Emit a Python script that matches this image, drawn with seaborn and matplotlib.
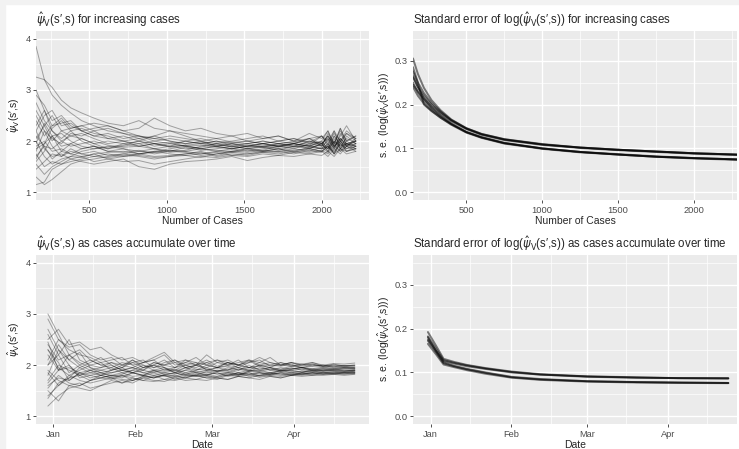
import matplotlib
matplotlib.use('Agg')
import matplotlib.pyplot as plt
import matplotlib.dates as mdates
from matplotlib.patches import Rectangle
import seaborn as sns
import pandas as pd

# ---- data ----
# top-left: estimate vs number of cases, one list per simulation run
cases = [156, 210, 260, 320, 380, 450, 530, 620, 720, 820, 920, 1020, 1120, 1220,
         1320, 1420, 1520, 1620, 1720, 1820, 1920, 2000, 2040, 2080, 2120, 2160, 2220]
psi_cases = [
    [3.85, 3.2, 2.9, 2.7, 2.55, 2.4, 2.3, 2.2, 2.15, 2.1, 2.05, 2.0, 1.95, 1.98, 1.92, 1.9, 1.95, 1.9, 1.92, 1.95, 1.9, 1.98, 1.85, 2.1, 1.9, 2.05, 1.95],
    [3.25, 3.2, 3.05, 2.8, 2.65, 2.55, 2.45, 2.35, 2.3, 2.4, 2.25, 2.2, 2.15, 2.1, 2.05, 2.1, 2.0, 2.05, 2.1, 2.0, 2.15, 2.05, 2.2, 1.95, 2.25, 2.0, 2.1],
    [1.15, 1.2, 1.45, 1.55, 1.6, 1.65, 1.7, 1.68, 1.72, 1.75, 1.7, 1.72, 1.75, 1.78, 1.7, 1.75, 1.72, 1.78, 1.8, 1.75, 1.82, 1.78, 1.9, 1.75, 1.85, 1.8, 1.85],
    [1.3, 1.15, 1.25, 1.4, 1.55, 1.62, 1.65, 1.7, 1.75, 1.8, 1.78, 1.82, 1.8, 1.85, 1.82, 1.8, 1.85, 1.88, 1.82, 1.9, 1.85, 1.95, 1.8, 2.0, 1.85, 1.95, 1.9],
    [2.6, 2.3, 2.0, 2.2, 2.1, 2.15, 2.05, 1.95, 2.0, 1.9, 1.95, 1.88, 1.92, 1.85, 1.9, 1.95, 1.88, 1.9, 1.95, 2.0, 1.92, 2.1, 1.9, 2.2, 1.85, 2.1, 1.95],
    [1.8, 2.2, 1.9, 1.7, 1.85, 1.75, 1.8, 1.72, 1.75, 1.7, 1.65, 1.7, 1.75, 1.8, 1.72, 1.78, 1.75, 1.8, 1.85, 1.78, 1.85, 1.8, 1.95, 1.75, 2.0, 1.8, 1.9],
    [2.2, 2.5, 2.6, 2.3, 2.35, 2.2, 2.1, 2.15, 2.05, 2.1, 2.0, 2.05, 2.0, 1.95, 2.0, 1.92, 1.95, 2.0, 1.95, 1.9, 2.0, 1.95, 2.05, 1.85, 2.15, 1.95, 2.0],
    [1.6, 1.8, 2.1, 1.9, 1.95, 1.85, 1.9, 1.8, 1.78, 1.82, 1.75, 1.8, 1.78, 1.72, 1.75, 1.8, 1.78, 1.82, 1.8, 1.85, 1.8, 1.88, 1.78, 1.95, 1.8, 1.9, 1.85],
    [2.0, 1.7, 1.55, 1.65, 1.7, 1.8, 1.85, 1.9, 1.85, 1.8, 1.85, 1.9, 1.85, 1.88, 1.95, 1.9, 1.85, 1.9, 1.88, 1.95, 1.9, 1.85, 2.05, 1.9, 2.0, 1.85, 1.95],
    [2.4, 2.1, 2.3, 2.45, 2.25, 2.3, 2.2, 2.25, 2.15, 2.05, 2.1, 2.0, 1.95, 2.0, 2.05, 1.98, 2.0, 1.95, 2.0, 2.05, 1.95, 2.0, 2.2, 1.9, 2.1, 2.3, 2.0],
    [1.9, 2.0, 1.8, 1.85, 1.75, 1.7, 1.75, 1.65, 1.6, 1.62, 1.55, 1.6, 1.65, 1.7, 1.68, 1.72, 1.7, 1.75, 1.72, 1.78, 1.75, 1.8, 1.7, 1.85, 1.75, 1.9, 1.8],
    [1.75, 1.5, 1.6, 1.55, 1.65, 1.6, 1.55, 1.6, 1.65, 1.5, 1.45, 1.55, 1.6, 1.62, 1.65, 1.7, 1.62, 1.68, 1.72, 1.7, 1.75, 1.72, 1.8, 1.7, 1.85, 1.75, 1.8],
    [2.9, 2.7, 2.4, 2.5, 2.3, 2.2, 2.25, 2.3, 2.2, 2.25, 2.45, 2.3, 2.2, 2.25, 2.15, 2.1, 2.15, 2.05, 2.1, 2.0, 2.05, 2.1, 2.0, 2.2, 2.0, 2.15, 2.05],
    [2.1, 1.9, 1.85, 2.0, 1.9, 1.95, 2.0, 1.92, 1.88, 1.9, 1.85, 1.8, 1.88, 1.82, 1.85, 1.9, 1.85, 1.82, 1.9, 1.88, 1.92, 1.85, 1.95, 1.8, 2.0, 1.9, 1.95],
    [1.45, 1.6, 1.75, 1.7, 1.8, 1.75, 1.7, 1.75, 1.7, 1.72, 1.68, 1.7, 1.72, 1.75, 1.78, 1.72, 1.75, 1.78, 1.75, 1.8, 1.78, 1.82, 1.75, 1.9, 1.8, 1.95, 1.85],
    [2.3, 2.6, 2.2, 2.0, 2.1, 2.05, 1.95, 2.0, 1.95, 1.9, 1.95, 1.9, 1.92, 1.95, 2.0, 1.95, 1.9, 1.95, 2.0, 1.95, 2.05, 1.9, 2.15, 1.95, 2.25, 1.9, 2.05],
    [1.85, 1.95, 2.1, 2.15, 2.0, 1.9, 1.85, 1.88, 1.92, 2.0, 1.95, 1.98, 1.9, 1.92, 1.88, 1.85, 1.9, 1.88, 1.85, 1.9, 1.88, 1.92, 1.85, 2.0, 1.9, 1.95, 1.9],
    [2.5, 2.2, 2.05, 1.95, 2.15, 2.1, 2.2, 2.05, 2.0, 1.95, 2.0, 1.95, 2.0, 2.05, 1.98, 2.0, 2.05, 2.1, 2.0, 2.05, 1.98, 2.1, 1.95, 2.15, 2.0, 2.2, 2.05],
    [1.55, 1.35, 1.5, 1.6, 1.7, 1.68, 1.75, 1.78, 1.8, 1.75, 1.78, 1.82, 1.8, 1.75, 1.8, 1.78, 1.82, 1.8, 1.78, 1.82, 1.85, 1.8, 1.9, 1.78, 1.95, 1.85, 1.9],
    [2.05, 2.3, 2.5, 2.2, 2.25, 2.3, 2.35, 2.3, 2.2, 2.1, 2.05, 2.1, 2.05, 2.0, 1.95, 1.98, 1.95, 2.0, 1.95, 1.98, 2.0, 1.95, 2.1, 1.95, 2.2, 2.0, 2.1],
    [2.75, 2.4, 2.2, 2.05, 2.2, 2.25, 2.15, 2.1, 2.0, 2.05, 1.95, 1.9, 2.0, 1.95, 1.9, 1.85, 1.9, 1.95, 1.9, 1.85, 1.95, 1.9, 2.0, 1.85, 2.05, 1.9, 2.0],
    [1.95, 2.35, 2.1, 1.8, 1.75, 1.85, 1.9, 1.85, 1.95, 2.0, 2.1, 2.2, 2.1, 2.0, 1.9, 1.85, 1.8, 1.85, 1.9, 1.95, 1.85, 1.95, 1.8, 2.05, 1.85, 2.0, 1.9],
    [1.65, 1.95, 2.25, 2.4, 2.2, 2.0, 1.9, 1.8, 1.85, 1.75, 1.8, 1.85, 1.9, 1.85, 1.8, 1.85, 1.9, 1.95, 1.9, 1.95, 1.9, 2.0, 1.85, 2.1, 1.95, 2.15, 2.0],
    [2.2, 1.85, 1.7, 1.75, 1.65, 1.7, 1.6, 1.65, 1.7, 1.75, 1.8, 1.75, 1.72, 1.68, 1.75, 1.8, 1.85, 1.8, 1.85, 1.8, 1.88, 1.85, 1.9, 1.75, 1.95, 1.8, 1.85],
    [3.0, 2.6, 2.3, 2.35, 2.4, 2.2, 2.1, 2.05, 2.1, 2.0, 1.9, 1.95, 1.9, 1.85, 1.9, 1.95, 2.0, 1.95, 1.9, 1.95, 2.05, 1.95, 2.1, 1.9, 2.05, 1.95, 2.0],
    [1.7, 1.9, 1.65, 1.8, 1.95, 2.05, 1.95, 1.85, 1.9, 1.95, 1.85, 1.78, 1.82, 1.9, 1.95, 1.88, 1.92, 1.88, 1.95, 1.9, 1.98, 1.92, 2.1, 1.88, 2.05, 1.92, 2.0],
]

# top-right: standard error vs number of cases (two bundles of runs)
se_cases_x = [148, 180, 220, 270, 330, 400, 500, 600, 750, 1000, 1250, 1500, 1750, 2000, 2284]
se_cases = [
    [0.262, 0.240, 0.220, 0.200, 0.182, 0.164, 0.145, 0.132, 0.120, 0.109, 0.102, 0.097, 0.093, 0.089, 0.086],
    [0.275, 0.250, 0.226, 0.204, 0.184, 0.165, 0.146, 0.133, 0.121, 0.110, 0.102, 0.097, 0.093, 0.089, 0.086],
    [0.245, 0.230, 0.213, 0.196, 0.179, 0.162, 0.144, 0.131, 0.119, 0.108, 0.101, 0.096, 0.092, 0.088, 0.085],
    [0.305, 0.270, 0.238, 0.210, 0.187, 0.166, 0.146, 0.133, 0.121, 0.109, 0.102, 0.097, 0.093, 0.089, 0.086],
    [0.250, 0.228, 0.208, 0.190, 0.173, 0.156, 0.137, 0.125, 0.112, 0.100, 0.092, 0.086, 0.081, 0.078, 0.075],
    [0.240, 0.220, 0.202, 0.186, 0.170, 0.154, 0.136, 0.124, 0.111, 0.099, 0.091, 0.086, 0.081, 0.077, 0.074],
    [0.265, 0.240, 0.214, 0.193, 0.175, 0.157, 0.138, 0.126, 0.113, 0.100, 0.092, 0.087, 0.082, 0.078, 0.075],
    [0.285, 0.250, 0.200, 0.185, 0.170, 0.155, 0.137, 0.125, 0.112, 0.100, 0.092, 0.086, 0.081, 0.078, 0.075],
]

# bottom-left: estimate as cases accumulate, every 4 days from 30 Dec
dates = pd.date_range('2019-12-30', '2020-04-24', freq='4D')
psi_dates = [
    [3.0, 2.6, 2.2, 2.3, 2.1, 2.0, 2.05, 1.95, 2.1, 2.0, 1.95, 2.05, 2.1, 1.95, 2.0, 2.05, 1.95, 2.0, 2.1, 1.95, 2.0, 1.95, 2.05, 2.0, 1.95, 1.98, 2.0, 1.95, 1.98, 1.95],
    [1.2, 1.4, 1.55, 1.6, 1.7, 1.75, 1.72, 1.8, 1.75, 1.7, 1.78, 1.8, 1.75, 1.82, 1.78, 1.8, 1.75, 1.82, 1.8, 1.85, 1.78, 1.82, 1.85, 1.8, 1.85, 1.82, 1.86, 1.84, 1.86, 1.85],
    [2.5, 2.7, 2.4, 2.45, 2.3, 2.35, 2.2, 2.1, 2.15, 2.05, 2.1, 2.2, 2.0, 2.05, 2.15, 2.0, 2.1, 2.05, 2.0, 2.1, 2.05, 2.15, 2.0, 2.05, 2.0, 2.05, 1.98, 2.02, 1.98, 2.0],
    [1.5, 1.3, 1.6, 1.55, 1.5, 1.6, 1.65, 1.7, 1.65, 1.75, 1.7, 1.68, 1.75, 1.7, 1.72, 1.78, 1.75, 1.72, 1.78, 1.75, 1.8, 1.78, 1.75, 1.8, 1.82, 1.8, 1.84, 1.82, 1.85, 1.84],
    [2.2, 1.9, 2.0, 1.8, 1.85, 1.9, 1.95, 1.85, 1.9, 2.0, 1.9, 1.95, 1.85, 1.9, 2.0, 1.92, 1.88, 1.95, 1.9, 2.0, 1.9, 1.95, 1.88, 1.92, 1.95, 1.9, 1.92, 1.9, 1.93, 1.92],
    [1.8, 2.3, 2.0, 1.75, 1.8, 1.85, 1.8, 1.75, 1.85, 1.8, 1.9, 1.82, 1.78, 1.85, 1.8, 1.88, 1.82, 1.85, 1.8, 1.88, 1.85, 1.82, 1.9, 1.85, 1.88, 1.86, 1.9, 1.88, 1.86, 1.88],
    [2.9, 2.5, 2.35, 2.4, 2.2, 2.1, 2.15, 2.0, 2.05, 2.1, 1.95, 2.0, 2.05, 1.95, 2.0, 2.1, 1.98, 2.05, 2.0, 1.95, 2.05, 2.0, 1.98, 2.02, 1.95, 2.0, 1.96, 1.98, 1.95, 1.96],
    [1.6, 1.75, 1.7, 1.85, 1.8, 1.75, 1.8, 1.85, 1.78, 1.8, 1.75, 1.8, 1.85, 1.8, 1.78, 1.82, 1.85, 1.8, 1.85, 1.82, 1.85, 1.8, 1.86, 1.82, 1.85, 1.88, 1.85, 1.87, 1.86, 1.88],
    [2.0, 2.2, 1.85, 2.0, 2.1, 2.0, 1.95, 2.05, 2.0, 1.9, 2.05, 2.0, 2.1, 2.0, 1.95, 2.05, 2.1, 2.0, 2.05, 2.1, 2.0, 2.05, 2.0, 1.98, 2.02, 1.98, 2.0, 1.97, 1.99, 1.98],
    [1.4, 1.6, 1.8, 1.7, 1.65, 1.7, 1.75, 1.72, 1.7, 1.78, 1.75, 1.8, 1.72, 1.78, 1.8, 1.75, 1.78, 1.8, 1.85, 1.78, 1.8, 1.85, 1.82, 1.8, 1.83, 1.85, 1.82, 1.84, 1.83, 1.85],
    [2.4, 2.1, 2.2, 2.05, 1.95, 1.9, 1.85, 1.9, 1.95, 1.85, 1.9, 1.88, 1.92, 1.85, 1.9, 1.95, 1.88, 1.9, 1.95, 1.9, 1.88, 1.92, 1.9, 1.95, 1.9, 1.92, 1.9, 1.92, 1.91, 1.9],
    [1.9, 1.7, 1.6, 1.65, 1.55, 1.6, 1.7, 1.65, 1.75, 1.7, 1.68, 1.72, 1.7, 1.75, 1.72, 1.7, 1.75, 1.72, 1.78, 1.75, 1.72, 1.78, 1.75, 1.8, 1.78, 1.8, 1.8, 1.82, 1.8, 1.82],
    [2.6, 2.2, 2.5, 2.1, 2.0, 2.05, 1.9, 1.95, 2.05, 1.95, 2.0, 2.1, 1.95, 2.05, 2.0, 1.95, 2.05, 2.0, 1.95, 2.05, 2.1, 1.98, 2.0, 2.05, 1.98, 2.02, 1.97, 2.0, 1.98, 1.99],
    [1.7, 2.0, 1.9, 1.8, 1.9, 1.85, 1.78, 1.82, 1.9, 1.85, 1.8, 1.85, 1.9, 1.82, 1.88, 1.85, 1.9, 1.88, 1.82, 1.88, 1.9, 1.85, 1.88, 1.9, 1.86, 1.9, 1.88, 1.9, 1.89, 1.9],
    [2.3, 1.95, 1.8, 1.9, 2.0, 1.95, 2.0, 1.9, 1.85, 1.95, 2.0, 1.9, 1.95, 2.0, 1.92, 1.9, 1.95, 1.98, 1.9, 1.95, 1.92, 1.95, 1.9, 1.93, 1.95, 1.92, 1.94, 1.93, 1.95, 1.94],
    [1.55, 1.8, 1.65, 1.6, 1.7, 1.8, 1.75, 1.65, 1.7, 1.75, 1.8, 1.72, 1.78, 1.75, 1.8, 1.75, 1.72, 1.8, 1.78, 1.82, 1.76, 1.8, 1.78, 1.82, 1.8, 1.83, 1.82, 1.83, 1.82, 1.83],
    [2.1, 2.5, 2.3, 2.2, 2.15, 2.05, 2.1, 2.15, 2.0, 2.05, 2.15, 2.25, 2.05, 2.1, 2.0, 2.2, 2.05, 2.1, 2.0, 2.05, 2.15, 2.05, 2.0, 2.05, 2.02, 2.05, 2.0, 2.03, 2.02, 2.04],
    [1.85, 1.6, 1.75, 1.95, 1.85, 1.8, 1.9, 1.95, 1.85, 1.9, 1.85, 1.92, 1.88, 1.95, 1.85, 1.9, 1.88, 1.85, 1.92, 1.88, 1.95, 1.9, 1.88, 1.9, 1.92, 1.88, 1.9, 1.91, 1.89, 1.9],
    [2.7, 2.3, 2.1, 1.95, 2.05, 2.15, 2.0, 1.9, 1.95, 2.05, 2.1, 1.95, 1.9, 2.0, 2.05, 1.9, 1.95, 2.05, 1.95, 1.9, 2.0, 1.95, 1.92, 1.98, 1.95, 1.93, 1.96, 1.94, 1.95, 1.94],
    [1.35, 1.65, 1.75, 1.8, 1.7, 1.75, 1.8, 1.78, 1.85, 1.8, 1.75, 1.82, 1.85, 1.8, 1.85, 1.82, 1.78, 1.85, 1.82, 1.8, 1.85, 1.82, 1.84, 1.86, 1.83, 1.85, 1.86, 1.85, 1.87, 1.86],
    [2.0, 2.4, 2.1, 2.25, 1.95, 1.85, 1.9, 2.0, 1.95, 1.9, 2.0, 1.95, 1.85, 1.95, 1.9, 2.0, 1.95, 1.9, 2.0, 1.95, 1.98, 1.9, 1.95, 1.92, 1.95, 1.9, 1.93, 1.92, 1.94, 1.93],
    [2.3, 2.05, 1.7, 1.85, 1.75, 1.8, 1.75, 1.8, 1.7, 1.78, 1.85, 1.78, 1.8, 1.75, 1.82, 1.8, 1.85, 1.78, 1.82, 1.85, 1.8, 1.84, 1.8, 1.84, 1.82, 1.85, 1.83, 1.85, 1.84, 1.85],
    [1.65, 1.9, 2.2, 2.0, 1.9, 1.95, 2.05, 2.0, 2.1, 1.95, 2.05, 2.0, 1.95, 2.1, 2.05, 2.0, 1.95, 2.05, 2.0, 2.08, 1.98, 2.0, 2.05, 1.98, 2.0, 2.02, 1.98, 2.0, 1.99, 2.0],
    [2.45, 1.9, 1.95, 1.85, 1.9, 1.8, 1.85, 1.9, 1.85, 1.8, 1.88, 1.85, 1.82, 1.9, 1.85, 1.8, 1.88, 1.92, 1.85, 1.9, 1.87, 1.85, 1.9, 1.88, 1.86, 1.9, 1.88, 1.89, 1.88, 1.9],
]

# bottom-right: standard error as cases accumulate over time
se_dates_x = pd.to_datetime(['2019-12-31', '2020-01-03', '2020-01-06', '2020-01-10', '2020-01-15', '2020-01-22',
                             '2020-02-01', '2020-02-12', '2020-03-01', '2020-03-20', '2020-04-05', '2020-04-24'])
se_dates = [
    [0.182, 0.155, 0.128, 0.122, 0.116, 0.109, 0.101, 0.095, 0.091, 0.088, 0.087, 0.0865],
    [0.192, 0.162, 0.131, 0.124, 0.117, 0.110, 0.102, 0.096, 0.091, 0.089, 0.087, 0.087],
    [0.175, 0.150, 0.126, 0.120, 0.114, 0.108, 0.100, 0.095, 0.090, 0.088, 0.087, 0.086],
    [0.172, 0.147, 0.121, 0.114, 0.107, 0.099, 0.089, 0.084, 0.080, 0.078, 0.077, 0.076],
    [0.165, 0.142, 0.118, 0.112, 0.105, 0.097, 0.088, 0.083, 0.079, 0.077, 0.076, 0.0755],
    [0.180, 0.150, 0.123, 0.115, 0.108, 0.100, 0.090, 0.085, 0.080, 0.078, 0.077, 0.076],
]

psi_lab = r'$\hat{\psi}_{\mathrm{V}}$(s′,s)'
se_lab = r's. e. (log($\hat{\psi}_{\mathrm{V}}$(s′,s)))'
titles = [r'$\hat{\psi}_{\mathrm{V}}$(s′,s) for increasing cases',
          r'Standard error of log($\hat{\psi}_{\mathrm{V}}$(s′,s)) for increasing cases',
          r'$\hat{\psi}_{\mathrm{V}}$(s′,s) as cases accumulate over time',
          r'Standard error of log($\hat{\psi}_{\mathrm{V}}$(s′,s)) as cases accumulate over time']


def long_form(x, runs):
    rows = []
    for i, run in enumerate(runs):
        for xv, yv in zip(x, run):
            rows.append((i, xv, yv))
    return pd.DataFrame(rows, columns=['run', 'x', 'y'])


sns.set_theme(style='darkgrid', rc={
    'axes.facecolor': '#EBEBEB', 'grid.color': 'white',
    'xtick.bottom': True, 'ytick.left': True,
    'xtick.major.size': 2.5, 'ytick.major.size': 2.5,
    'xtick.major.width': 0.6, 'ytick.major.width': 0.6,
    'xtick.color': '#333333', 'ytick.color': '#333333',
    'xtick.labelcolor': '#4D4D4D', 'ytick.labelcolor': '#4D4D4D',
    'xtick.major.pad': 1.5, 'ytick.major.pad': 1.5,
    'xtick.labelsize': 6.7, 'ytick.labelsize': 6.7,
    'axes.labelsize': 7.5, 'axes.titlesize': 8.3,
})
plt.rcParams['font.family'] = ['Liberation Sans', 'DejaVu Sans']
plt.rcParams['mathtext.fontset'] = 'dejavusans'

W, H = 739, 449
fig = plt.figure(figsize=(W / 100, H / 100), dpi=100, facecolor='white')
# thin grey screenshot border on the left and top
fig.patches.append(Rectangle((0, 0), 5 / W, 1, transform=fig.transFigure, color='#F2F2F2', zorder=-1))
fig.patches.append(Rectangle((0, 1 - 4 / H), 1, 4 / H, transform=fig.transFigure, color='#F2F2F2', zorder=-1))

def box(x0, y0, x1, y1):
    return [x0 / W, 1 - y1 / H, (x1 - x0) / W, (y1 - y0) / H]

ax1 = fig.add_axes(box(36, 31, 369, 200))
ax2 = fig.add_axes(box(413, 31, 737, 200))
ax3 = fig.add_axes(box(36, 255, 369, 424))
ax4 = fig.add_axes(box(413, 255, 737, 424))

kw_noisy = dict(x='x', y='y', units='run', estimator=None, color='black',
                alpha=0.33, linewidth=0.7, legend=False)
kw_se = dict(x='x', y='y', units='run', estimator=None, color='black',
             alpha=0.5, linewidth=1.4, legend=False)

sns.lineplot(data=long_form(cases, psi_cases), ax=ax1, **kw_noisy)
sns.lineplot(data=long_form(se_cases_x, se_cases), ax=ax2, **kw_se)
sns.lineplot(data=long_form(dates, psi_dates), ax=ax3, **kw_noisy)
sns.lineplot(data=long_form(se_dates_x, se_dates), ax=ax4, **kw_se)

for ax in (ax1, ax3):
    ax.set_ylim(0.85, 4.15)
    ax.set_yticks([1, 2, 3, 4])
    ax.set_yticks([1.5, 2.5, 3.5], minor=True)
    ax.set_ylabel(psi_lab, labelpad=2)
for ax in (ax2, ax4):
    ax.set_ylim(-0.0175, 0.3675)
    ax.set_yticks([0.0, 0.1, 0.2, 0.3])
    ax.set_yticklabels(['0.0', '0.1', '0.2', '0.3'])
    ax.set_yticks([0.05, 0.15, 0.25, 0.35], minor=True)
    ax.set_ylabel(se_lab, labelpad=2)

ax1.set_xlim(156, 2305)
ax2.set_xlim(148, 2284)
for ax in (ax1, ax2):
    ax.set_xticks([500, 1000, 1500, 2000])
    ax.set_xticks([250, 750, 1250, 1750, 2250], minor=True)
    ax.set_xlabel('Number of Cases', labelpad=1)

ax3.set_xlim(pd.Timestamp('2019-12-25 12:00'), pd.Timestamp('2020-04-29 09:00'))
ax4.set_xlim(pd.Timestamp('2019-12-25 07:00'), pd.Timestamp('2020-04-27 08:00'))
for ax in (ax3, ax4):
    ax.xaxis.set_major_locator(mdates.MonthLocator())
    ax.xaxis.set_major_formatter(mdates.DateFormatter('%b'))
    ax.xaxis.set_minor_locator(mdates.MonthLocator(bymonthday=16))
    ax.set_xlabel('Date', labelpad=1)

for ax, t in zip((ax1, ax2, ax3, ax4), titles):
    ax.set_title(t, loc='left', pad=5)
    ax.grid(which='major', color='white', linewidth=1.0)
    ax.grid(which='minor', color='white', linewidth=0.5)
    ax.tick_params(which='minor', length=0)
    for s in ax.spines.values():
        s.set_visible(False)

fig.savefig('out.png', dpi=100, facecolor=fig.get_facecolor())
